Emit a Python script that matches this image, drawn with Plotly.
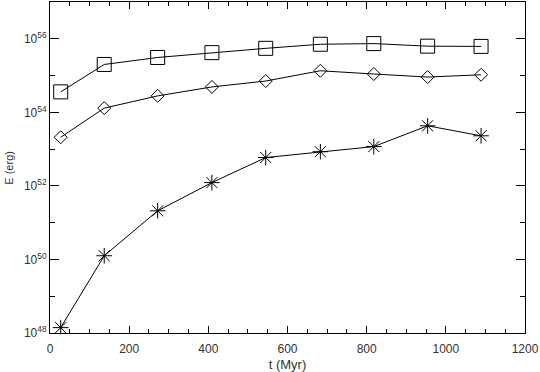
import plotly.graph_objects as go

# time (Myr)
t_myr = [27, 137, 272, 409, 545, 683, 818, 954, 1089]
# energies (erg)
e_square = [3.6e54, 2.0e55, 3.1e55, 4.2e55, 5.5e55, 7.1e55, 7.4e55, 6.3e55, 6.2e55]
e_diamond = [2.1e53, 1.3e54, 2.8e54, 4.9e54, 7.1e54, 1.35e55, 1.1e55, 9.1e54, 1.05e55]
e_star = [1.4e48, 1.26e50, 2.1e51, 1.23e52, 5.9e52, 8.5e52, 1.17e53, 4.3e53, 2.3e53]

y_tick_exps = [48, 50, 52, 54, 56]
y_minor_exps = [49, 51, 53, 55, 57]
x_tick_vals = [0, 200, 400, 600, 800, 1000, 1200]

fig = go.Figure()
line = dict(color="black", width=1)
fig.add_trace(go.Scatter(x=t_myr, y=e_square, mode="lines+markers", line=line,
                         marker=dict(symbol="square-open", size=14, color="black",
                                     line=dict(width=1, color="black"))))
fig.add_trace(go.Scatter(x=t_myr, y=e_diamond, mode="lines+markers", line=line,
                         marker=dict(symbol="diamond-open", size=10, color="black",
                                     line=dict(width=1, color="black"))))
fig.add_trace(go.Scatter(x=t_myr, y=e_star, mode="lines+markers", line=line,
                         marker=dict(symbol="asterisk-open", size=13, color="black",
                                     line=dict(width=1, color="black"))))

family = "Liberation Sans, Arial, sans-serif"
font = dict(family=family, size=12, color="#333")
fig.update_layout(
    width=540, height=372, showlegend=False,
    paper_bgcolor="white", plot_bgcolor="white",
    margin=dict(l=50, r=15, t=1, b=38),
    font=font,
    annotations=[dict(text="E (erg)", xref="paper", yref="paper", x=-0.088, y=0.5,
                      xanchor="center", yanchor="middle", textangle=-90, showarrow=False,
                      font=dict(family=family, size=11, color="#333"))],
)
fig.update_xaxes(
    range=[0, 1200], tickvals=x_tick_vals, ticks="inside", ticklen=7, tickwidth=1,
    tickcolor="black", showline=True, linecolor="black", linewidth=1, mirror="allticks",
    showgrid=False, zeroline=False, tickfont=font, ticklabelstandoff=5,
    minor=dict(dtick=50, ticks="inside", ticklen=4, tickcolor="black", showgrid=False),
    title=dict(text="t (Myr)", font=dict(family=family, size=13, color="#333"), standoff=5),
)
fig.update_yaxes(
    type="log", range=[48, 57],
    tickvals=[10.0 ** e for e in y_tick_exps],
    ticktext=[f"10<sup>{e}</sup>" for e in y_tick_exps],
    ticks="inside", ticklen=9, tickwidth=1, tickcolor="black",
    showline=True, linecolor="black", linewidth=1, mirror="allticks",
    showgrid=False, zeroline=False, tickfont=font, ticklabelstandoff=0,
    minor=dict(tickvals=[10.0 ** e for e in y_minor_exps], ticks="inside", ticklen=5,
               tickcolor="black", showgrid=False),
)
fig.write_html("out.html", config={"displayModeBar": False},
               post_script="document.body.style.margin='0';")
